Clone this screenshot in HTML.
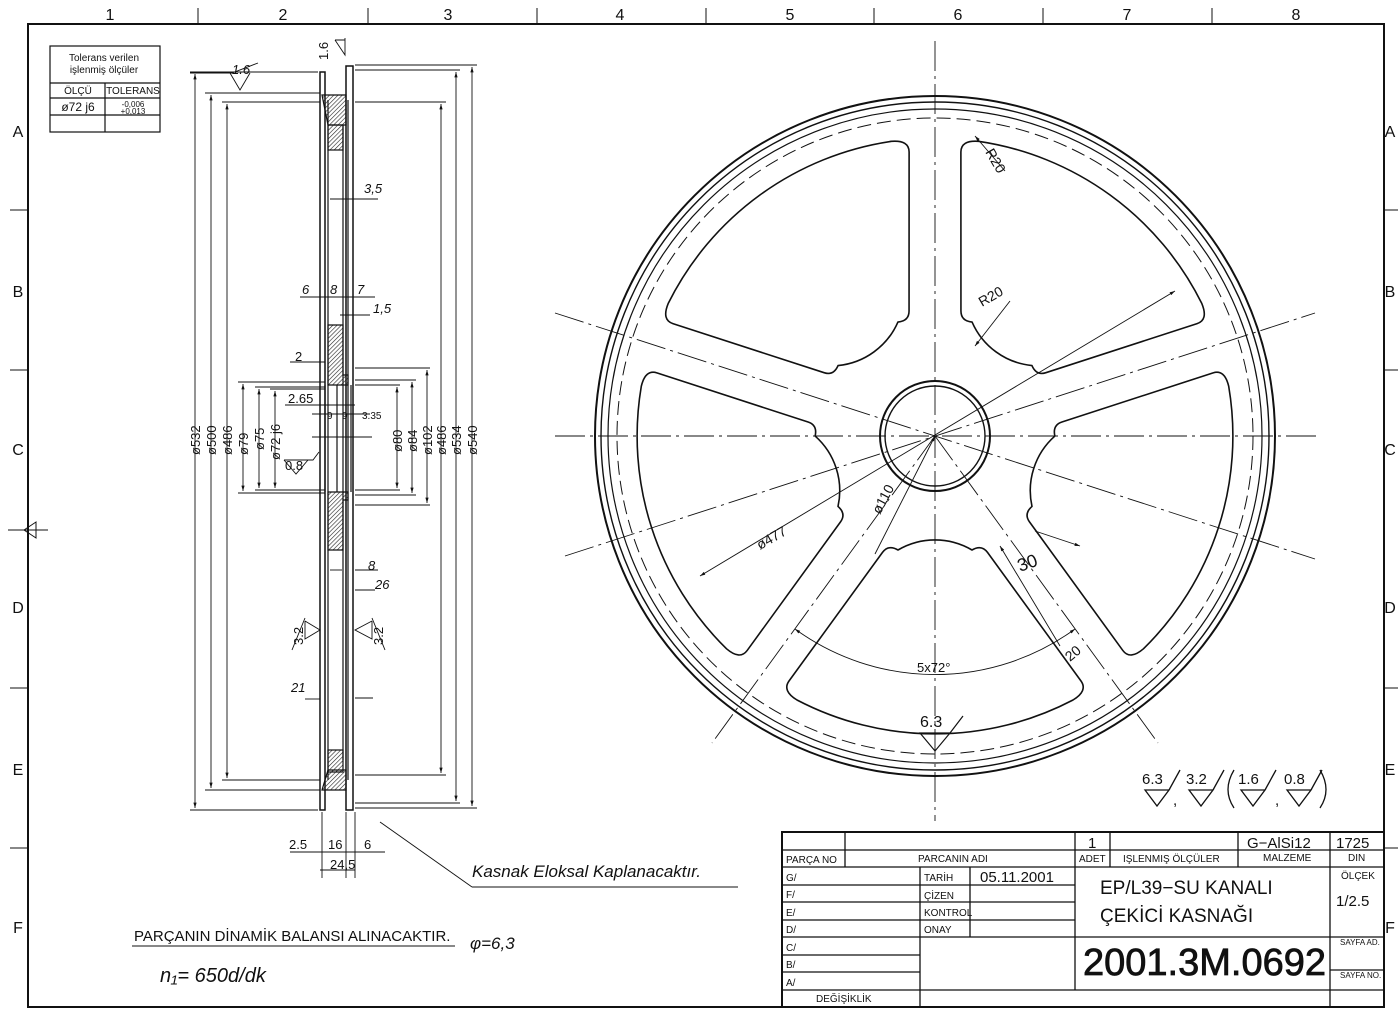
<!DOCTYPE html>
<html><head><meta charset="utf-8"><style>
body{margin:0;background:#fff}
svg{display:block}
text{font-family:"Liberation Sans",sans-serif;fill:#111}
</style></head><body>
<svg width="1400" height="1019" viewBox="0 0 1400 1019" xmlns="http://www.w3.org/2000/svg">
<defs>
<pattern id="h" width="3" height="3" patternUnits="userSpaceOnUse" patternTransform="rotate(45)"><line x1="0" y1="0" x2="0" y2="3" stroke="#222" stroke-width="1.2"/></pattern>
<marker id="a" viewBox="0 0 10 10" refX="10" refY="5" markerWidth="6" markerHeight="6" orient="auto-start-reverse"><path d="M0,2 L10,5 L0,8z" fill="#111"/></marker>
<path id="w" d="M -37,-114 A 73 73 0 0 0 37,-114 Q 46.6,-108.3 52.5,-116.4 L 146,-245 Q 153,-254.8 138,-264 A 298 298 0 0 0 -138,-264 Q -153,-254.8 -146,-245 L -52.5,-116.4 Q -46.6,-108.3 -37,-114 Z"/>
</defs>
<rect width="1400" height="1019" fill="#fff"/>
<rect x="28" y="24" width="1356" height="983" fill="none" stroke="#111" stroke-width="2"/>
<g stroke="#111" stroke-width="1">
<line x1="198" y1="8" x2="198" y2="24"/><line x1="368" y1="8" x2="368" y2="24"/><line x1="537" y1="8" x2="537" y2="24"/><line x1="706" y1="8" x2="706" y2="24"/><line x1="874" y1="8" x2="874" y2="24"/><line x1="1043" y1="8" x2="1043" y2="24"/><line x1="1212" y1="8" x2="1212" y2="24"/>
<line x1="10" y1="210" x2="28" y2="210"/><line x1="10" y1="370" x2="28" y2="370"/><line x1="10" y1="688" x2="28" y2="688"/><line x1="10" y1="848" x2="28" y2="848"/>
<line x1="1384" y1="210" x2="1398" y2="210"/><line x1="1384" y1="370" x2="1398" y2="370"/><line x1="1384" y1="688" x2="1398" y2="688"/><line x1="1384" y1="848" x2="1398" y2="848"/>
<line x1="8" y1="530" x2="48" y2="530"/><path d="M24,530 L36,522 L36,538z" fill="none"/>
</g>
<g font-size="16" text-anchor="middle">
<text x="110" y="20">1</text><text x="283" y="20">2</text><text x="448" y="20">3</text><text x="620" y="20">4</text><text x="790" y="20">5</text><text x="958" y="20">6</text><text x="1127" y="20">7</text><text x="1296" y="20">8</text>
<text x="18" y="137">A</text><text x="18" y="297">B</text><text x="18" y="455">C</text><text x="18" y="613">D</text><text x="18" y="775">E</text><text x="18" y="933">F</text>
<text x="1390" y="137">A</text><text x="1390" y="297">B</text><text x="1390" y="455">C</text><text x="1390" y="613">D</text><text x="1390" y="775">E</text><text x="1390" y="933">F</text>
</g>
<g stroke="#111" fill="none" stroke-width="1.2">
<rect x="50" y="46" width="110" height="86"/><line x1="50" y1="83" x2="160" y2="83"/><line x1="50" y1="98" x2="160" y2="98"/><line x1="50" y1="115" x2="160" y2="115"/><line x1="105" y1="83" x2="105" y2="132"/>
</g>
<g font-size="10" text-anchor="middle"><text x="104" y="61">Tolerans  verilen</text><text x="104" y="73">işlenmiş  ölçüler</text><text x="78" y="94">ÖLÇÜ</text><text x="133" y="94">TOLERANS</text><text x="78" y="111" font-size="12">ø72 j6</text><text x="133" y="107" font-size="8">-0,006</text><text x="133" y="114" font-size="8">+0,013</text></g>

<g stroke="#111" fill="none" stroke-width="1.2">
<rect x="320" y="72" width="5" height="738" fill="#fff" stroke-width="1.5"/>
<rect x="346" y="66" width="7" height="744" stroke-width="1.5"/>
<line x1="328" y1="100" x2="328" y2="780"/><line x1="343" y1="125" x2="343" y2="760"/><line x1="348" y1="100" x2="348" y2="780"/>
<path d="M322,95 L346,95 L346,125 L328,125z" fill="url(#h)"/>
<path d="M322,790 L346,790 L346,770 L328,770z" fill="url(#h)"/>
<rect x="328" y="125" width="15" height="25" fill="url(#h)"/>
<rect x="328" y="750" width="15" height="22" fill="url(#h)"/>
<path d="M328,325 L343,325 L343,375 L348,375 L348,385 L328,385z" fill="url(#h)"/>
<path d="M328,492 L348,492 L348,500 L343,500 L343,550 L328,550z" fill="url(#h)"/>
<line x1="325" y1="385" x2="325" y2="492"/><line x1="337" y1="385" x2="337" y2="492"/><line x1="351" y1="385" x2="351" y2="492"/>
</g>
<g stroke="#111" stroke-width="0.9" fill="none">
<line x1="190" y1="72" x2="318" y2="72"/><line x1="205" y1="93" x2="320" y2="93"/><line x1="222" y1="102" x2="320" y2="102"/>
<line x1="190" y1="810" x2="318" y2="810"/><line x1="205" y1="790" x2="320" y2="790"/><line x1="222" y1="780" x2="320" y2="780"/>
<line x1="238" y1="382" x2="325" y2="382"/><line x1="255" y1="387" x2="325" y2="387"/><line x1="270" y1="389" x2="325" y2="389"/>
<line x1="238" y1="493" x2="325" y2="493"/><line x1="255" y1="490" x2="325" y2="490"/>
<line x1="355" y1="65" x2="477" y2="65"/><line x1="355" y1="70" x2="460" y2="70"/><line x1="355" y1="102" x2="446" y2="102"/>
<line x1="355" y1="808" x2="477" y2="808"/><line x1="355" y1="803" x2="460" y2="803"/><line x1="355" y1="775" x2="446" y2="775"/>
<line x1="355" y1="368" x2="430" y2="368"/><line x1="355" y1="380" x2="416" y2="380"/><line x1="355" y1="385" x2="400" y2="385"/>
<line x1="355" y1="505" x2="430" y2="505"/><line x1="355" y1="495" x2="416" y2="495"/><line x1="355" y1="490" x2="400" y2="490"/>
<g marker-start="url(#a)" marker-end="url(#a)">
<line x1="195" y1="74" x2="195" y2="808"/><line x1="211" y1="95" x2="211" y2="788"/><line x1="227" y1="104" x2="227" y2="778"/>
<line x1="243" y1="384" x2="243" y2="491"/><line x1="259" y1="389" x2="259" y2="488"/><line x1="275" y1="391" x2="275" y2="488"/>
<line x1="397" y1="387" x2="397" y2="488"/><line x1="412" y1="382" x2="412" y2="493"/><line x1="427" y1="370" x2="427" y2="503"/>
<line x1="441" y1="104" x2="441" y2="773"/><line x1="456" y1="72" x2="456" y2="801"/><line x1="472" y1="67" x2="472" y2="806"/>
</g>
<line x1="300" y1="297" x2="375" y2="297"/><line x1="290" y1="362" x2="325" y2="362"/><line x1="285" y1="405" x2="355" y2="405"/><line x1="312" y1="414" x2="370" y2="414"/>
<line x1="330" y1="199" x2="378" y2="199"/><line x1="340" y1="315" x2="370" y2="315"/>
<line x1="330" y1="570" x2="342" y2="570"/><line x1="355" y1="570" x2="378" y2="570"/><line x1="355" y1="590" x2="375" y2="590"/>
<line x1="305" y1="699" x2="320" y2="699"/><line x1="355" y1="698" x2="373" y2="698"/>
<line x1="290" y1="852" x2="385" y2="852"/><line x1="320" y1="870" x2="355" y2="870"/>
<line x1="322" y1="812" x2="322" y2="878"/><line x1="346" y1="812" x2="346" y2="878"/><line x1="355" y1="812" x2="355" y2="878"/>
<line x1="380" y1="822" x2="472" y2="887"/><line x1="472" y1="887" x2="738" y2="887"/>
<line x1="312" y1="437" x2="372" y2="437"/>
<path d="M190,73 L232,73 L258,63 M230,73 L240,90 L250,73" />
<path d="M335,40 L345,55 L345,38 M335,40 L345,40" />
<path d="M284,460 L296,474 L308,460 L284,460 L313,460 L319,452"/>
<path d="M305,621 L320,630 L305,639 L305,621 M305,618 L292,650"/>
<path d="M372,621 L355,630 L372,639 L372,621 M372,618 L385,650"/>
</g>
<g font-size="13" font-style="italic"><text x="232" y="74">1.6</text><text x="364" y="193">3,5</text><text x="302" y="294">6</text><text x="330" y="294">8</text><text x="357" y="294">7</text><text x="373" y="313">1,5</text><text x="295" y="361" font-style="normal">2</text><text x="288" y="403" font-style="normal">2.65</text><text x="327" y="419" font-size="10" font-style="normal">9</text><text x="342" y="419" font-size="10" font-style="normal">9</text><text x="362" y="419" font-size="10" font-style="normal">3.35</text><text x="285" y="470" font-style="normal">0.8</text><text x="368" y="570">8</text><text x="375" y="589" fill="#555">26</text><text x="291" y="692">21</text><text x="289" y="849" font-style="normal">2.5</text><text x="328" y="849" font-style="normal">16</text><text x="364" y="849" font-style="normal">6</text><text x="330" y="869" font-style="normal">24,5</text></g>
<g font-size="13">
<text transform="translate(200,455) rotate(-90)">ø532</text><text transform="translate(216,455) rotate(-90)">ø500</text><text transform="translate(232,455) rotate(-90)">ø486</text><text transform="translate(248,455) rotate(-90)">ø79</text><text transform="translate(264,450) rotate(-90)">ø75</text><text transform="translate(280,460) rotate(-90)">ø72 j6</text>
<text transform="translate(402,452) rotate(-90)">ø80</text><text transform="translate(417,452) rotate(-90)">ø84</text><text transform="translate(432,455) rotate(-90)">ø102</text><text transform="translate(446,455) rotate(-90)">ø486</text><text transform="translate(461,455) rotate(-90)">ø534</text><text transform="translate(477,455) rotate(-90)">ø540</text>
<text transform="translate(328,60) rotate(-90)">1.6</text><text transform="translate(303,645) rotate(-90)">3.2</text><text transform="translate(383,645) rotate(-90)">3.2</text>
</g>
<text x="472" y="877" font-size="17" font-style="italic">Kasnak Eloksal Kaplanacaktır.</text>
<text x="134" y="941" font-size="15">PARÇANIN  DİNAMİK  BALANSI  ALINACAKTIR.</text>
<line x1="132" y1="946" x2="455" y2="946" stroke="#111"/>
<text x="470" y="949" font-size="17" font-style="italic" font-family="Liberation Serif">φ=6,3</text>
<text x="160" y="982" font-size="20" font-style="italic" font-family="Liberation Serif">n₁= 650d/dk</text>

<g transform="translate(935,436)" stroke="#111" fill="none">
<circle r="340" stroke-width="2"/><circle r="334" stroke-width="1.4"/><circle r="327" stroke-width="1.2"/>
<circle r="318" stroke-width="1" stroke-dasharray="14 6"/>
<circle r="55" stroke-width="2"/><circle r="50" stroke-width="1.4"/>
<g stroke-width="1.6" stroke-linejoin="round">
<use href="#w" transform="rotate(36)"/>
<use href="#w" transform="rotate(108)"/>
<use href="#w" transform="rotate(180)"/>
<use href="#w" transform="rotate(252)"/>
<use href="#w" transform="rotate(324)"/>
</g>
<g stroke-width="0.9" stroke-dasharray="30 5 3 5">
<line x1="0" y1="-395" x2="0" y2="385"/><line x1="-380" y1="0" x2="385" y2="0"/>
<line x1="-380" y1="-123" x2="380" y2="123" /><line x1="-370" y1="120" x2="380" y2="-123"/>
<line x1="0" y1="0" x2="223" y2="307"/><line x1="0" y1="0" x2="-223" y2="307"/>
</g>
<line x1="-235" y1="140" x2="240" y2="-145" stroke-width="0.9" marker-start="url(#a)" marker-end="url(#a)"/>
<line x1="-60" y1="118" x2="0" y2="0" stroke-width="0.9" marker-end="url(#a)"/>
<path d="M -140,193 A 238 238 0 0 0 140,193" stroke-width="0.9" marker-start="url(#a)" marker-end="url(#a)"/>
<line x1="40" y1="-300" x2="70" y2="-265" stroke-width="0.9" marker-start="url(#a)"/>
<line x1="40" y1="-90" x2="75" y2="-135" stroke-width="0.9" marker-start="url(#a)"/>
<line x1="65" y1="110" x2="125" y2="210" stroke-width="0.9" marker-start="url(#a)"/>
<line x1="100" y1="95" x2="145" y2="110" stroke-width="0.9" marker-end="url(#a)"/>
<path d="M -15,297 L 0,315 L 15,297 Z M 15,297 L 28,280" stroke-width="1.2"/>
</g>
<g font-size="14">
<text transform="translate(985,152) rotate(60)">R20</text>
<text transform="translate(982,307) rotate(-30)">R20</text>
<text transform="translate(760,550) rotate(-30)">ø477</text>
<text transform="translate(880,515) rotate(-62)">ø110</text>
<text x="917" y="672" font-size="13">5x72°</text>
<text transform="translate(1020,572) rotate(-20)" font-size="18">30</text>
<text transform="translate(1070,662) rotate(-40)">20</text>
<text x="920" y="727" font-size="16">6.3</text>
</g>
<g stroke="#111" fill="none" stroke-width="1.3">
<path d="M1145,790 L1157,806 L1169,790 Z M1169,790 L1180,770"/><path d="M1189,790 L1201,806 L1213,790 Z M1213,790 L1224,770"/>
<path d="M1241,790 L1253,806 L1265,790 Z M1265,790 L1276,770"/><path d="M1287,790 L1299,806 L1311,790 Z M1311,790 L1322,770"/>
<path d="M1234,770 Q1222,790 1234,808 M1320,770 Q1332,790 1320,808"/>
</g>
<g font-size="15"><text x="1142" y="784">6.3</text><text x="1186" y="784">3.2</text><text x="1238" y="784">1.6</text><text x="1284" y="784">0.8</text><text x="1173" y="805">,</text><text x="1275" y="805">,</text></g>

<g stroke="#111" fill="none" stroke-width="1.3">
<rect x="782" y="832" width="602" height="175" stroke-width="2"/>
<line x1="782" y1="850" x2="1384" y2="850"/><line x1="782" y1="867" x2="1384" y2="867"/>
<line x1="782" y1="885" x2="1075" y2="885"/><line x1="782" y1="902" x2="1075" y2="902"/><line x1="782" y1="920" x2="1075" y2="920"/><line x1="782" y1="937" x2="1384" y2="937"/>
<line x1="782" y1="955" x2="920" y2="955"/><line x1="782" y1="972" x2="920" y2="972"/><line x1="782" y1="990" x2="1384" y2="990"/>
<line x1="1330" y1="970" x2="1384" y2="970"/>
<line x1="845" y1="832" x2="845" y2="867"/><line x1="1075" y1="832" x2="1075" y2="990"/><line x1="1110" y1="832" x2="1110" y2="867"/><line x1="1238" y1="832" x2="1238" y2="867"/><line x1="1330" y1="832" x2="1330" y2="1007"/>
<line x1="920" y1="867" x2="920" y2="1007"/><line x1="970" y1="867" x2="970" y2="937"/>
</g>
<g font-size="10">
<text x="786" y="863">PARÇA  NO</text><text x="918" y="862">PARCANIN  ADI</text><text x="1079" y="862">ADET</text><text x="1123" y="862">IŞLENMIŞ  ÖLÇÜLER</text><text x="1263" y="861">MALZEME</text><text x="1348" y="861">DIN</text>
<text x="786" y="881">G/</text><text x="786" y="898">F/</text><text x="786" y="916">E/</text><text x="786" y="933">D/</text><text x="786" y="951">C/</text><text x="786" y="968">B/</text><text x="786" y="986">A/</text><text x="816" y="1002">DEĞİŞİKLİK</text>
<text x="924" y="881">TARİH</text><text x="924" y="899">ÇİZEN</text><text x="924" y="916">KONTROL</text><text x="924" y="933">ONAY</text>
<text x="1341" y="879">ÖLÇEK</text><text x="1340" y="945" font-size="8">SAYFA AD.</text><text x="1340" y="978" font-size="8">SAYFA NO.</text>
</g>
<g font-size="15"><text x="1088" y="848">1</text><text x="1247" y="848">G−AlSi12</text><text x="1336" y="848">1725</text><text x="980" y="882">05.11.2001</text><text x="1336" y="906">1/2.5</text></g>
<g font-size="19"><text x="1100" y="894">EP/L39−SU  KANALI</text><text x="1100" y="922">ÇEKİCİ  KASNAĞI</text></g>
<text x="1083" y="975" font-size="38" fill="#fff" stroke="#111" stroke-width="0.8">2001.3M.0692</text>
</svg>
</body></html>
